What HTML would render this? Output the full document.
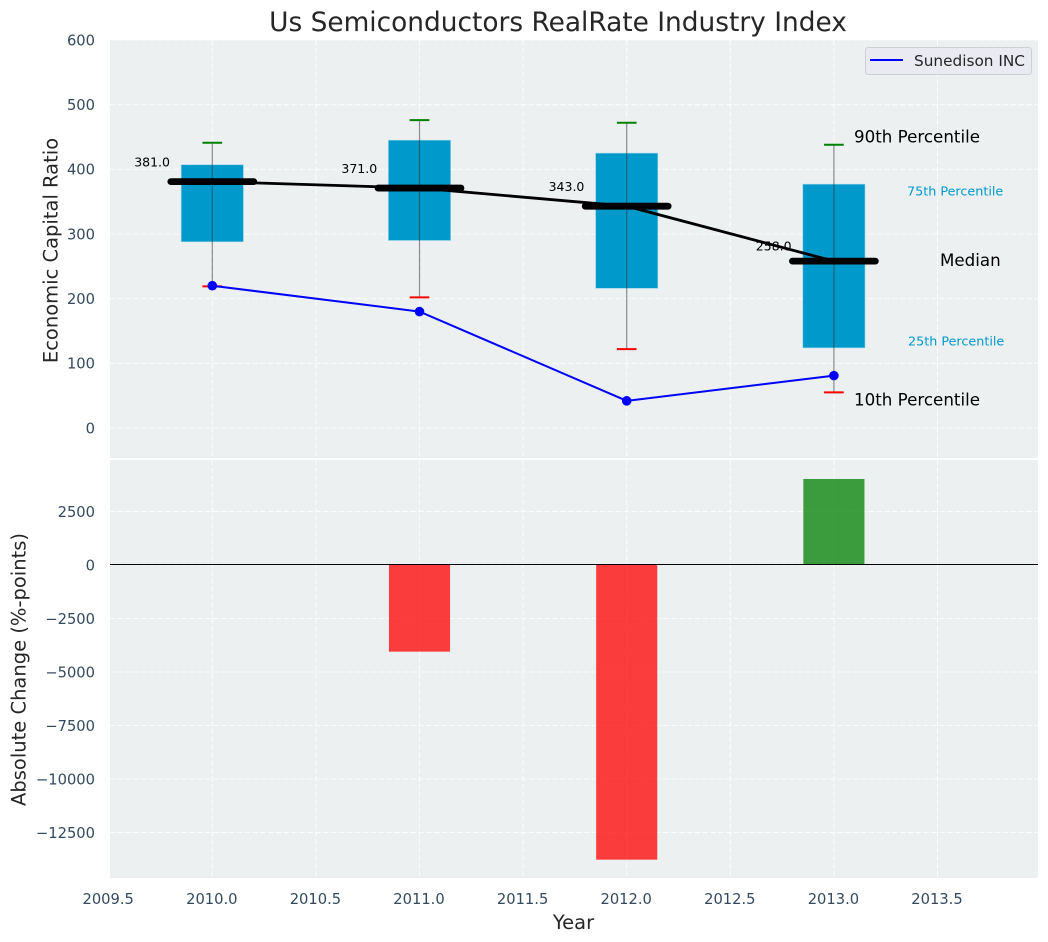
<!DOCTYPE html>
<html>
<head>
<meta charset="utf-8">
<title>Us Semiconductors RealRate Industry Index</title>
<style>
html,body{margin:0;padding:0;background:#fff;}
svg{display:block;}
text{font-family:"DejaVu Sans","Liberation Sans",sans-serif;}
</style>
</head>
<body>
<svg id="chart" xmlns="http://www.w3.org/2000/svg" width="1048" height="942" viewBox="0 0 1048 942"></svg>
<script>
const years = [2010, 2011, 2012, 2013];
const p90 = [441, 476, 472, 438];
const p75 = [407, 445, 425, 377];
const medians = [381, 371, 343, 258];
const p25 = [288, 290, 216, 124];
const p10 = [219, 202, 122, 55];
const company = [220, 180, 42, 81];
const changes = [0, -4050, -13770, 4020];
const xTicks = [2009.5, 2010, 2010.5, 2011, 2011.5, 2012, 2012.5, 2013, 2013.5];
const topTicks = [0, 100, 200, 300, 400, 500, 600];
const bottomTicks = [-12500, -10000, -7500, -5000, -2500, 0, 2500];

const svg = document.getElementById('chart');
const NS = 'http://www.w3.org/2000/svg';
const L = 110, R = 1038;
const T1 = 40, B1 = 458, T2 = 460, B2 = 878;
const x = v => 212.3 + (v - 2010) * 207.2;
const yTop = v => 428 - v * 0.6467;
const yBot = v => 565 - v * 0.0214;

function mk(tag, attrs, text) {
  const e = document.createElementNS(NS, tag);
  for (const k in attrs) e.setAttribute(k, attrs[k]);
  if (text !== undefined) e.textContent = text;
  svg.appendChild(e);
  return e;
}
function fmt(v) { return String(v).replace('-', '\u2212'); }
let el;

el = mk('rect', {x: L, y: T1, width: R - L, height: B1 - T1, fill: '#ecf0f1'});


el = mk('rect', {x: L, y: T2, width: R - L, height: B2 - T2, fill: '#ecf0f1'});



const gridStyle = {stroke: '#fff', 'stroke-width': 1.1, 'stroke-dasharray': '5.5 2.4', opacity: 0.85};
xTicks.forEach(t => {
  if (x(t) < L) return;
  el = mk('line', Object.assign({x1: x(t), x2: x(t), y1: T1, y2: B1}, gridStyle));
  
  
  el = mk('line', Object.assign({x1: x(t), x2: x(t), y1: T2, y2: B2}, gridStyle));
  
  
});
topTicks.forEach(t => {
  el = mk('line', Object.assign({x1: L, x2: R, y1: yTop(t), y2: yTop(t)}, gridStyle));
  
  
  el = mk('text', {x: 95, y: yTop(t) + 5.3, 'text-anchor': 'end', 'font-size': 14.7, fill: '#34495e'}, fmt(t));
  
  
});
bottomTicks.forEach(t => {
  el = mk('line', Object.assign({x1: L, x2: R, y1: yBot(t), y2: yBot(t)}, gridStyle));
  
  
  el = mk('text', {x: 95, y: yBot(t) + 5.3, 'text-anchor': 'end', 'font-size': 14.7, fill: '#34495e'}, fmt(t));
  
  
});
xTicks.forEach(t => {
  el = mk('text', {x: x(t) - 0.5, y: 904, 'text-anchor': 'middle', 'font-size': 14.7, fill: '#34495e'}, t.toFixed(1));
  
  
});

const boxW = 0.30, medW = 0.40, capW = 0.095, barW = 0.295;

years.forEach((yr, i) => {
  el = mk('rect', {x: x(yr - boxW / 2), y: yTop(p75[i]), width: x(yr + boxW / 2) - x(yr - boxW / 2), height: yTop(p25[i]) - yTop(p75[i]), fill: '#0099cc', stroke: '#8fd0e6', 'stroke-width': 0.6});
  
  
  el = mk('line', {x1: x(yr), x2: x(yr), y1: yTop(p90[i]), y2: yTop(p10[i]), stroke: '#333', 'stroke-opacity': 0.55, 'stroke-width': 1.2});
  
  
  el = mk('line', {x1: x(yr - capW / 2), x2: x(yr + capW / 2), y1: yTop(p90[i]), y2: yTop(p90[i]), stroke: '#008000', 'stroke-width': 2});
  
  
  el = mk('line', {x1: x(yr - capW / 2), x2: x(yr + capW / 2), y1: yTop(p10[i]), y2: yTop(p10[i]), stroke: '#ff0000', 'stroke-width': 2});
  
  
});

el = mk('polyline', {points: years.map((yr, i) => x(yr) + ',' + yTop(medians[i])).join(' '), fill: 'none', stroke: '#000', 'stroke-width': 2.8});



years.forEach((yr, i) => {
  el = mk('line', {x1: x(yr - medW / 2), x2: x(yr + medW / 2), y1: yTop(medians[i]), y2: yTop(medians[i]), stroke: '#000', 'stroke-width': 6.8, 'stroke-linecap': 'round'});
  
  
  el = mk('text', {x: x(yr) - 42.3, y: yTop(medians[i]) - (i === 3 ? 10.5 : 15), 'text-anchor': 'end', 'font-size': 12.5, fill: '#000'}, medians[i].toFixed(1));
  
  
});

el = mk('polyline', {points: years.map((yr, i) => x(yr) + ',' + yTop(company[i])).join(' '), fill: 'none', stroke: '#0000ff', 'stroke-width': 2});


years.forEach((yr, i) => {
  el = mk('circle', {cx: x(yr), cy: yTop(company[i]), r: 4.8, fill: '#0000ff'});
  
  
});

years.forEach((yr, i) => {
  if (changes[i] === 0) return;
  const top = Math.min(yBot(changes[i]), yBot(0));
  const h = Math.abs(yBot(changes[i]) - yBot(0));
  el = mk('rect', {x: x(yr - barW / 2), y: top, width: x(yr + barW / 2) - x(yr - barW / 2), height: h, fill: changes[i] < 0 ? '#ff0000' : '#008000', 'fill-opacity': 0.75});
  
  
});
el = mk('line', {x1: L, x2: R, y1: yBot(0) - 0.5, y2: yBot(0) - 0.5, stroke: '#000', 'stroke-width': 1.1});



el = mk('text', {x: 854, y: 142.5, 'font-size': 16.7, fill: '#000'}, '90th Percentile');


el = mk('text', {x: 907, y: 195.5, 'font-size': 12.75, fill: '#0099cc'}, '75th Percentile');


el = mk('text', {x: 940, y: 266, 'font-size': 16.7, fill: '#000'}, 'Median');


el = mk('text', {x: 908, y: 345.5, 'font-size': 12.75, fill: '#0099cc'}, '25th Percentile');


el = mk('text', {x: 854, y: 405.5, 'font-size': 16.7, fill: '#000'}, '10th Percentile');



el = mk('rect', {x: 865.5, y: 47.5, width: 166, height: 27, rx: 3, fill: '#eaeaf2', stroke: '#cfcfd6', 'stroke-width': 1});


el = mk('line', {x1: 870, x2: 903, y1: 60, y2: 60, stroke: '#0000ff', 'stroke-width': 2});


el = mk('text', {x: 914, y: 66, 'font-size': 15.3, fill: '#262626'}, 'Sunedison INC');



el = mk('text', {x: 558, y: 31, 'text-anchor': 'middle', 'font-size': 26.4, fill: '#262626'}, 'Us Semiconductors RealRate Industry Index');


el = mk('text', {x: 573.5, y: 929, 'text-anchor': 'middle', 'font-size': 19.5, fill: '#262626'}, 'Year');


el = mk('text', {transform: 'translate(57.5,250.5) rotate(-90)', 'text-anchor': 'middle', 'font-size': 19.5, fill: '#262626'}, 'Economic Capital Ratio');


el = mk('text', {transform: 'translate(25.5,669.5) rotate(-90)', 'text-anchor': 'middle', 'font-size': 19.5, fill: '#262626'}, 'Absolute Change (%-points)');


</script>
</body>
</html>
